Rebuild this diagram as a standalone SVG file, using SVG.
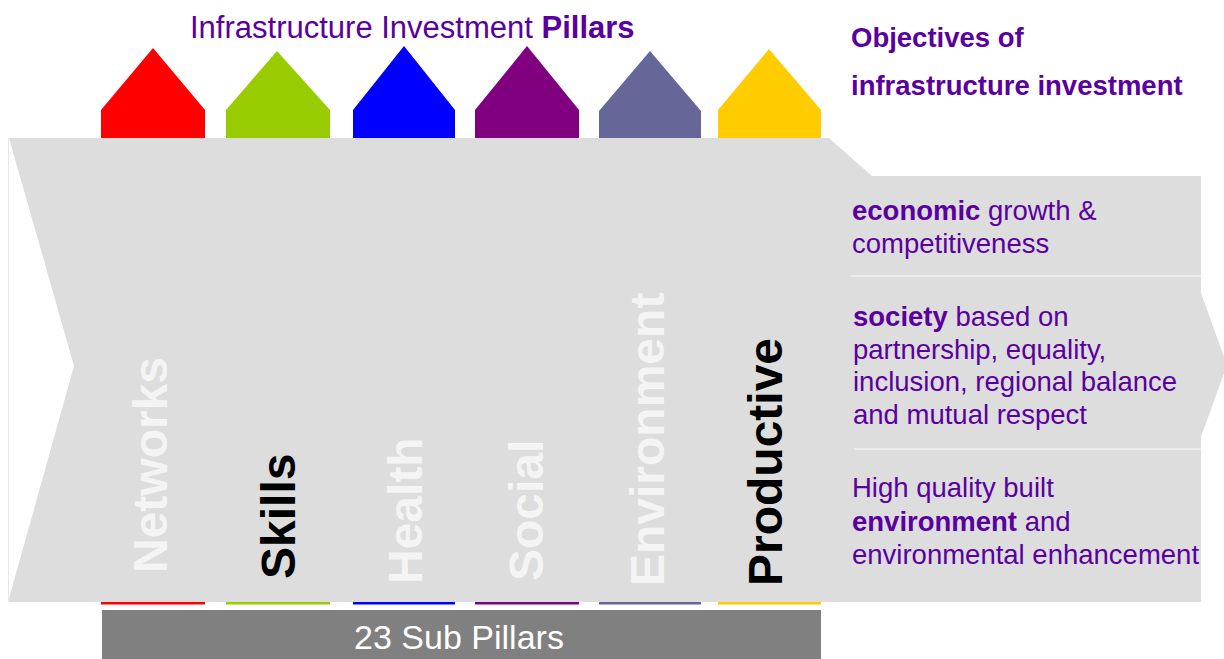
<svg xmlns="http://www.w3.org/2000/svg" width="1224" height="659" viewBox="0 0 1224 659">
  <style>
    .title { font-family: "Liberation Sans", Arial, sans-serif; fill: #5a00a0; }
    .obj { font-family: "Liberation Sans", Arial, sans-serif; font-size: 27.5px; fill: #5a00a0; }
    .b { font-weight: bold; }
    .pl { font-family: "Liberation Sans", Arial, sans-serif; font-size: 48px; font-weight: bold; }
    .light { fill: #f4f4f4; }
    .dark { fill: #000000; }
    .sep { stroke: #efefef; stroke-width: 1.5; }
  </style>
  <rect width="1224" height="659" fill="#ffffff"/>

  <g id="band">
    <polygon points="9,138 829,138 872,176 1201,176 1201,293 1227,365 1201,437 1201,602 8,602 74,366" fill="#dddddd"/>
    <line x1="8.5" y1="138" x2="8.5" y2="602" stroke="#e8e8e8" stroke-width="1"/>
  </g>

  <g id="title">
    <text class="title" x="190" y="38" font-size="31">Infrastructure Investment <tspan class="b">Pillars</tspan></text>
  </g>

  <g id="objectives-title">
    <text class="title b" x="851" y="47" font-size="27.5">Objectives of</text>
    <text class="title b" x="851" y="95" font-size="27.5">infrastructure investment</text>
  </g>

  <g id="pillar-networks">
    <polygon points="101,138 101,110 153,48 205,110 205,138" fill="#ff0000"/>
    <rect x="101" y="602" width="104" height="2.5" fill="#ff0000"/>
    <text class="pl light" transform="translate(167,573) rotate(-90)">Networks</text>
  </g>
  <g id="pillar-skills">
    <polygon points="226,138 226,110 277,51 330,110 330,138" fill="#99cc00"/>
    <rect x="226" y="602" width="104" height="2.5" fill="#99cc00"/>
    <text class="pl dark" transform="translate(295,579) rotate(-90)">Skills</text>
  </g>
  <g id="pillar-health">
    <polygon points="353,138 353,110 404,46 455,110 455,138" fill="#0000ff"/>
    <rect x="353" y="602" width="102" height="2.5" fill="#0000ff"/>
    <text class="pl light" transform="translate(422,584) rotate(-90)">Health</text>
  </g>
  <g id="pillar-social">
    <polygon points="475,138 475,110 527,46 579,110 579,138" fill="#800080"/>
    <rect x="475" y="602" width="104" height="2.5" fill="#800080"/>
    <text class="pl light" transform="translate(543,581) rotate(-90)">Social</text>
  </g>
  <g id="pillar-environment">
    <polygon points="599,138 599,111 650,51 701,111 701,138" fill="#666699"/>
    <rect x="599" y="602" width="102" height="2.5" fill="#666699"/>
    <text class="pl light" transform="translate(664,586) rotate(-90)">Environment</text>
  </g>
  <g id="pillar-productive">
    <polygon points="718,138 718,110 769,49 821,110 821,138" fill="#ffcc00"/>
    <rect x="718" y="602" width="103" height="2.5" fill="#ffcc00"/>
    <text class="pl dark" transform="translate(782,586) rotate(-90)">Productive</text>
  </g>

  <g id="objective-economic">
    <text class="obj" x="852" y="220"><tspan class="b">economic</tspan> growth &amp;</text>
    <text class="obj" x="852" y="253">competitiveness</text>
  </g>
  <line class="sep" x1="851" y1="276" x2="1201" y2="276"/>
  <g id="objective-society">
    <text class="obj" x="853" y="326"><tspan class="b">society</tspan> based on</text>
    <text class="obj" x="853" y="358.5">partnership, equality,</text>
    <text class="obj" x="853" y="391">inclusion, regional balance</text>
    <text class="obj" x="853" y="423.5">and mutual respect</text>
  </g>
  <line class="sep" x1="854" y1="449" x2="1201" y2="449"/>
  <g id="objective-environment">
    <text class="obj" x="852" y="497">High quality built</text>
    <text class="obj" x="852" y="530.5"><tspan class="b">environment</tspan> and</text>
    <text class="obj" x="852" y="564">environmental enhancement</text>
  </g>

  <g id="sub-pillars">
    <rect x="102" y="610" width="719" height="49" fill="#808080"/>
    <text x="459" y="649" font-family="Liberation Sans, Arial, sans-serif" font-size="34" fill="#ffffff" text-anchor="middle">23 Sub Pillars</text>
  </g>
</svg>
